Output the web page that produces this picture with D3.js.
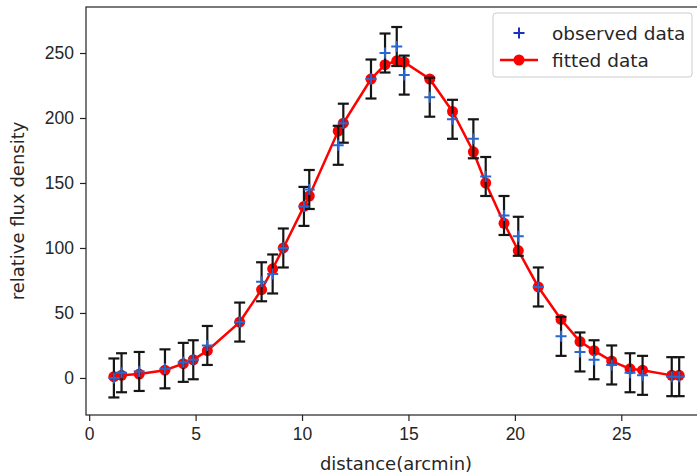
<!DOCTYPE html>
<html>
<head>
<meta charset="utf-8">
<script src="https://cdn.jsdelivr.net/npm/d3@7"></script>
<style>
  body { margin: 0; background: #fff; }
  svg { display: block; font-family: "DejaVu Sans", sans-serif; }
  .tick text { font-size: 17.5px; fill: #262626; }
  .axis-title { font-size: 18px; fill: #262626; }
  .legend-text { font-size: 18.5px; fill: #262626; }
</style>
</head>
<body>
<svg id="chart"></svg>
<script>
// distance (arcmin) of each sample
const distance = [1.16, 1.52, 2.35, 3.56, 4.42, 4.89, 5.55, 7.07, 8.1, 8.62, 9.12, 10.09, 10.34, 11.7, 11.94,
  13.24, 13.9, 14.45, 14.8, 16.0, 17.07, 18.05, 18.63, 19.49, 20.16, 21.1, 22.17, 23.06, 23.72, 24.55,
  25.41, 26.0, 27.37, 27.72];
const observed = [0, 4, 5, 7, 12, 14, 25, 43, 74, 80, 100, 132, 145, 179, 196,
  230, 250, 255, 233, 216, 199, 184, 155, 125, 109, 70, 32, 20, 14, 10,
  4, 2, 1, 1];
const fitted = [1, 2, 3, 6, 11, 14, 21, 43, 68, 84, 100, 132, 140, 190, 196,
  230, 241, 244, 243, 230, 205, 174, 150, 119, 98, 70, 45, 28, 21, 13,
  7, 6, 2, 2];
const errors = [15, 15, 15, 15, 15, 15, 15, 15, 15, 15, 15, 15, 15, 15, 15,
  15, 15, 15, 15, 15, 15, 15, 15, 15, 15, 15, 15, 15, 15, 15,
  15, 15, 15, 15];

const xTicks = [0, 5, 10, 15, 20, 25];
const yTicks = [0, 50, 100, 150, 200, 250];
const seriesLabels = ["observed data", "fitted data"];

const width = 697, height = 476;
const margin = { top: 7, right: -9, bottom: 61, left: 86 };

const svg = d3.select("#chart").attr("width", width).attr("height", height);

const x = d3.scaleLinear().domain([-0.15, 28.98]).range([margin.left, width - margin.right]);
const y = d3.scaleLinear().domain([-28.5, 285.4]).range([height - margin.bottom, margin.top]);

// ── Axes ──────────────────────────────────────────────────────────────────────

svg.append("g")
  .attr("transform", `translate(0,${height - margin.bottom})`)
  .call(d3.axisBottom(x).tickValues(xTicks).tickSize(6).tickPadding(7).tickFormat(d3.format("d")))
  .call((g) => g.select(".domain").remove());

svg.append("g")
  .attr("transform", `translate(${margin.left},0)`)
  .call(d3.axisLeft(y).tickValues(yTicks).tickSize(6).tickPadding(6).tickFormat(d3.format("d")))
  .call((g) => g.select(".domain").remove());

svg.selectAll(".tick line").attr("stroke", "#222").attr("stroke-width", 1.2);

// frame
svg.append("rect")
  .attr("x", margin.left).attr("y", margin.top)
  .attr("width", x.range()[1] - margin.left).attr("height", y.range()[0] - margin.top)
  .attr("fill", "none").attr("stroke", "#222").attr("stroke-width", 1.2);

svg.append("text")
  .attr("class", "axis-title")
  .attr("x", (x.range()[0] + x.range()[1]) / 2).attr("y", height - 6)
  .attr("text-anchor", "middle")
  .text("distance(arcmin)");

svg.append("text")
  .attr("class", "axis-title")
  .attr("transform", `translate(24,${(y.range()[0] + y.range()[1]) / 2}) rotate(-90)`)
  .attr("text-anchor", "middle")
  .text("relative flux density");

// ── Marks ─────────────────────────────────────────────────────────────────────

const pts = distance.map((d, i) => ({ x: d, obs: observed[i], fit: fitted[i], err: errors[i] }));
const plot = svg.append("g");

plot.append("path")
  .datum(pts)
  .attr("fill", "none").attr("stroke", "#ff0000").attr("stroke-width", 2.5)
  .attr("d", d3.line().x((d) => x(d.x)).y((d) => y(d.fit)));

plot.selectAll(".fit-dot")
  .data(pts).join("circle")
  .attr("class", "fit-dot")
  .attr("cx", (d) => x(d.x)).attr("cy", (d) => y(d.fit))
  .attr("r", 5.5).attr("fill", "#ff0000");

const bars = plot.selectAll(".err").data(pts).join("g").attr("class", "err")
  .attr("stroke", "#151515").attr("stroke-width", 2.2);
bars.append("line")
  .attr("x1", (d) => x(d.x)).attr("x2", (d) => x(d.x))
  .attr("y1", (d) => y(d.obs - d.err)).attr("y2", (d) => y(d.obs + d.err));
bars.append("line")
  .attr("x1", (d) => x(d.x) - 5.5).attr("x2", (d) => x(d.x) + 5.5)
  .attr("y1", (d) => y(d.obs - d.err)).attr("y2", (d) => y(d.obs - d.err));
bars.append("line")
  .attr("x1", (d) => x(d.x) - 5.5).attr("x2", (d) => x(d.x) + 5.5)
  .attr("y1", (d) => y(d.obs + d.err)).attr("y2", (d) => y(d.obs + d.err));

function plus(g, cx, cy, s, color) {
  g.append("path")
    .attr("d", `M${cx - s},${cy}H${cx + s}M${cx},${cy - s}V${cy + s}`)
    .attr("stroke", color).attr("stroke-width", 2).attr("fill", "none");
}

pts.forEach((d) => plus(plot, x(d.x), y(d.obs), 5.5, "#2a66cc"));

// ── Legend ────────────────────────────────────────────────────────────────────

const legend = svg.append("g").attr("transform", "translate(493,13)");
legend.append("rect")
  .attr("width", 199).attr("height", 64).attr("rx", 3)
  .attr("fill", "#fff").attr("fill-opacity", 0.8)
  .attr("stroke", "#cccccc").attr("stroke-width", 1);

plus(legend, 26, 20, 5.5, "#1a30c0");
legend.append("line")
  .attr("x1", 7).attr("x2", 45).attr("y1", 47).attr("y2", 47)
  .attr("stroke", "#ff0000").attr("stroke-width", 2.5);
legend.append("circle").attr("cx", 26).attr("cy", 47).attr("r", 5.5).attr("fill", "#ff0000");

legend.selectAll(".legend-text")
  .data(seriesLabels).join("text")
  .attr("class", "legend-text")
  .attr("x", 59).attr("y", (d, i) => 26.5 + i * 27)
  .text((d) => d);
</script>
</body>
</html>
